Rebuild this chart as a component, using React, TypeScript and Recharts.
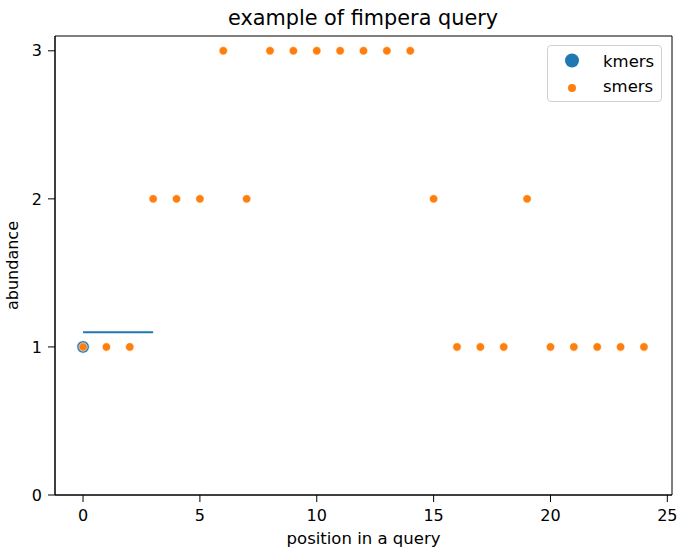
import React from 'react';
import { ComposedChart, Scatter, Line, XAxis, YAxis, Legend, Label, ReferenceArea } from 'recharts';

const positions = [0, 1, 2, 3, 4, 5, 6, 7, 8, 9, 10, 11, 12, 13, 14, 15, 16, 17, 18, 19, 20, 21, 22, 23, 24];
const smersAbundance = [1, 1, 1, 2, 2, 2, 3, 2, 3, 3, 3, 3, 3, 3, 3, 2, 1, 1, 1, 2, 1, 1, 1, 1, 1];
const kmersPositions = [0];
const kmersAbundance = [1];
const lineX = [0, 3];
const lineY = [1.1, 1.1];
const xTicks = [0, 5, 10, 15, 20, 25];
const yTicks = [0, 1, 2, 3];
const xDomain = [-1.2, 25.2];
const yDomain = [0, 3.1];

const smersData = positions.map((p, i) => ({ x: p, y: smersAbundance[i] }));
const kmersData = kmersPositions.map((p, i) => ({ x: p, y: kmersAbundance[i] }));
const lineData = lineX.map((p, i) => ({ x: p, y: lineY[i] }));

const BLUE = '#1f77b4';
const ORANGE = '#ff7f0e';
const FONT = '"DejaVu Sans", sans-serif';

const dot = (r: number, color: string) => (props: any) => (
  <circle cx={props.cx} cy={props.cy} r={r} fill={color} stroke="#ffffff" strokeWidth={0.6} />
);

const LegendBox = (props: any) => {
  const items = (props.payload || []).filter((p: any) => p.value === 'kmers' || p.value === 'smers');
  return (
    <div style={{ position: 'relative', width: 115, height: 57, border: '1px solid #d0d0d0', borderRadius: 4, background: 'rgba(255,255,255,0.8)', boxSizing: 'border-box' }}>
      <svg width={115} height={57} style={{ position: 'absolute', left: -1, top: -1 }}>
        {items.map((it: any, i: number) => (
          <g key={it.value}>
            <circle cx={25} cy={15.5 + i * 27.5} r={it.value === 'kmers' ? 7 : 4} fill={it.value === 'kmers' ? BLUE : ORANGE} />
            <text x={56} y={21.5 + i * 25} fontFamily={FONT} fontSize={16.5} fill="#000">{it.value}</text>
          </g>
        ))}
      </svg>
    </div>
  );
};

export default function App() {
  return (
    <div style={{ position: 'absolute', left: 0, top: 0, width: 679, height: 549, background: '#fff' }}>
      <ComposedChart width={679} height={549} margin={{ top: 36, right: 7, left: 0, bottom: 0 }}>
        <XAxis
          xAxisId="main"
          type="number"
          dataKey="x"
          domain={xDomain}
          ticks={xTicks}
          allowDataOverflow
          height={54}
          tickSize={7}
          tickMargin={8}
          stroke="#000"
          tick={{ fill: '#000', fontSize: 16, fontFamily: FONT }}
          tickLine={{ stroke: '#000' }}
        >
          <Label value="position in a query" position="insideBottom" offset={5} fill="#000" fontSize={16.5} fontFamily={FONT} />
        </XAxis>
        <YAxis
          yAxisId="main"
          type="number"
          dataKey="y"
          domain={yDomain}
          ticks={yTicks}
          allowDataOverflow
          width={55}
          tickSize={7}
          tickMargin={6}
          stroke="#000"
          tick={{ fill: '#000', fontSize: 16, fontFamily: FONT }}
          tickLine={{ stroke: '#000' }}
        >
          <Label value="abundance" angle={-90} position="insideLeft" offset={0} dx={12} fill="#000" fontSize={16} fontFamily={FONT} style={{ textAnchor: 'middle' }} />
        </YAxis>
        <ReferenceArea xAxisId="main" yAxisId="main" x1={xDomain[0]} x2={xDomain[1]} y1={yDomain[0]} y2={yDomain[1]} fill="none" fillOpacity={0} stroke="#000" strokeWidth={1} ifOverflow="visible" />
        <Legend layout="vertical" align="center" verticalAlign="middle" content={<LegendBox />} wrapperStyle={{ position: 'absolute', left: 547, top: 45, width: 115, height: 57 }} />
        <Line
          xAxisId="main"
          yAxisId="main"
          data={lineData}
          dataKey="y"
          stroke={BLUE}
          strokeWidth={2}
          dot={false}
          legendType="none"
          isAnimationActive={false}
          name="line"
        />
        <Scatter xAxisId="main" yAxisId="main" name="kmers" data={kmersData} fill={BLUE} shape={dot(6.2, BLUE)} isAnimationActive={false} />
        <Scatter xAxisId="main" yAxisId="main" name="smers" data={smersData} fill={ORANGE} shape={dot(4.2, ORANGE)} isAnimationActive={false} />
      </ComposedChart>
      <svg width={679} height={40} style={{ position: 'absolute', left: 0, top: 0, pointerEvents: 'none' }}>
        <text x={363} y={25} textAnchor="middle" fontFamily={FONT} fontSize={20.8} fill="#000">example of fimpera query</text>
      </svg>
    </div>
  );
}
